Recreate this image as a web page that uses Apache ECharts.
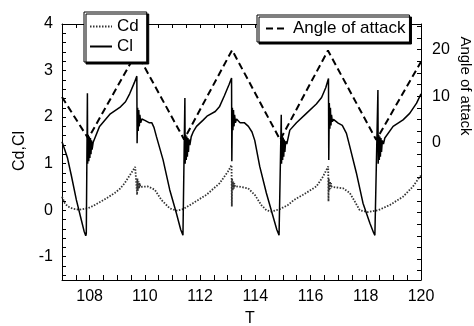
<!DOCTYPE html>
<html>
<head>
<meta charset="utf-8">
<script src="https://cdn.jsdelivr.net/npm/echarts@6/dist/echarts.min.js"></script>
<style>html,body{margin:0;padding:0;background:#fff;}#c{width:474px;height:326px;}</style>
</head>
<body>
<div id="c"></div>
<script>
// ---- data ----
const seriesNames = ['Cd', 'Cl', 'Angle of attack'];

const angleData = [[107.0, 9.8], [107.95, 0.9], [109.7, 19.4], [111.42, 0.7], [113.16, 19.9], [114.9, 0.6], [116.63, 19.8], [118.38, 0.6], [120.0, 17.4]];

const clData = [
  [107.00, 1.47], [107.10, 1.30], [107.20, 1.12], [107.34, 0.74], [107.52, 0.22], [107.70, -0.21], [107.80, -0.45], [107.86, -0.55],
  [107.88, -0.50], [107.92, 2.51], [107.93, 1.00], [107.95, 1.62], [107.97, 1.05], [107.99, 1.58], [108.01, 1.12], [108.03, 1.55], [108.05, 1.20], [108.07, 1.50], [108.09, 1.30], [108.13, 1.46],
  [108.36, 1.80], [108.75, 2.07], [109.12, 2.22], [109.30, 2.33], [109.45, 2.50], [109.62, 2.74], [109.71, 2.88],
  [109.72, 1.44], [109.74, 2.20], [109.76, 1.70], [109.78, 2.15], [109.80, 1.80], [109.82, 2.05], [109.85, 1.88], [109.89, 1.96],
  [110.00, 1.93], [110.15, 1.88], [110.25, 1.88], [110.33, 1.78], [110.42, 1.58], [110.66, 1.08], [110.90, 0.44], [111.14, -0.06], [111.30, -0.42], [111.38, -0.54],
  [111.40, -0.50], [111.45, 2.41], [111.46, 1.00], [111.48, 1.62], [111.50, 1.08], [111.52, 1.58], [111.54, 1.15], [111.56, 1.55], [111.58, 1.25], [111.60, 1.52], [111.63, 1.40], [111.68, 1.58],
  [111.75, 1.68], [111.87, 1.80], [112.10, 1.93], [112.25, 2.02], [112.55, 2.12], [112.70, 2.22], [112.88, 2.46], [113.05, 2.70], [113.14, 2.84],
  [113.15, 1.05], [113.17, 2.20], [113.19, 1.72], [113.21, 2.15], [113.23, 1.80], [113.25, 2.05], [113.28, 1.88], [113.32, 1.96],
  [113.45, 1.88], [113.60, 1.88], [113.75, 1.80], [113.88, 1.68], [113.98, 1.50], [114.16, 0.94], [114.40, 0.37], [114.64, -0.13], [114.78, -0.42], [114.86, -0.54],
  [114.89, -0.50], [114.94, 2.05], [114.95, 1.00], [114.97, 1.60], [114.99, 1.08], [115.01, 1.56], [115.03, 1.15], [115.05, 1.52], [115.07, 1.25], [115.10, 1.48], [115.14, 1.42],
  [115.25, 1.72], [115.49, 1.88], [115.85, 2.08], [116.21, 2.28], [116.40, 2.42], [116.55, 2.63], [116.65, 2.83],
  [116.66, 1.08], [116.68, 2.30], [116.70, 1.75], [116.72, 2.20], [116.74, 1.82], [116.76, 2.05], [116.79, 1.90], [116.83, 1.95],
  [117.00, 1.87], [117.15, 1.82], [117.30, 1.65], [117.42, 1.37], [117.66, 0.80], [117.90, 0.15], [118.15, -0.28], [118.28, -0.48], [118.33, -0.54],
  [118.36, -0.50], [118.44, 2.58], [118.45, 1.00], [118.47, 1.62], [118.49, 1.08], [118.51, 1.58], [118.53, 1.15], [118.55, 1.55], [118.57, 1.25], [118.60, 1.50], [118.64, 1.42],
  [118.69, 1.55], [118.99, 1.80], [119.35, 1.94], [119.59, 2.08], [119.84, 2.30], [120.00, 2.50]
];

const cdData = [
  [107.00, 0.29], [107.10, 0.15], [107.21, 0.08], [107.40, 0.03], [107.64, 0.01], [107.94, 0.04], [108.15, 0.10], [108.42, 0.19], [108.65, 0.27], [108.91, 0.37], [109.10, 0.46], [109.27, 0.58], [109.51, 0.80], [109.65, 0.93], [109.71, 0.97],
  [109.72, 0.33], [109.73, 0.68], [109.75, 0.42], [109.77, 0.62], [109.79, 0.46], [109.81, 0.58], [109.84, 0.50],
  [109.90, 0.51], [110.11, 0.51], [110.36, 0.44], [110.48, 0.33], [110.60, 0.22], [110.90, 0.04], [111.14, -0.01], [111.38, 0.02], [111.74, 0.15], [112.23, 0.33], [112.71, 0.58], [113.01, 0.83], [113.14, 0.97],
  [113.15, 0.08], [113.16, 0.68], [113.18, 0.42], [113.20, 0.62], [113.22, 0.46], [113.24, 0.58], [113.27, 0.50],
  [113.37, 0.51], [113.74, 0.47], [113.98, 0.33], [114.22, 0.11], [114.40, 0.00], [114.58, -0.03], [114.88, 0.02], [115.18, 0.11], [115.40, 0.22], [115.73, 0.33], [116.21, 0.51], [116.45, 0.72], [116.64, 0.94],
  [116.65, 0.19], [116.66, 0.68], [116.68, 0.42], [116.70, 0.62], [116.72, 0.46], [116.74, 0.58], [116.77, 0.50],
  [116.82, 0.51], [117.18, 0.47], [117.42, 0.37], [117.60, 0.19], [117.78, 0.00], [118.08, -0.04], [118.45, 0.00], [118.87, 0.11], [119.35, 0.29], [119.71, 0.51], [119.96, 0.72], [120.00, 0.74]
];

const xLabelValues = [108, 110, 112, 114, 116, 118, 120];
const xTickValues = [107.5, 108, 108.5, 109, 109.5, 110, 110.5, 111, 111.5, 112, 112.5, 113, 113.5, 114, 114.5, 115, 115.5, 116, 116.5, 117, 117.5, 118, 118.5, 119, 119.5];
const yLabelValues = [-1, 0, 1, 2, 3, 4];
const yTickValues = [-1.4, -1.2, -1, -0.8, -0.6, -0.4, -0.2, 0, 0.2, 0.4, 0.6, 0.8, 1, 1.2, 1.4, 1.6, 1.8, 2, 2.2, 2.4, 2.6, 2.8, 3, 3.2, 3.4, 3.6, 3.8];
const y2LabelValues = [0, 10, 20];
const y2TickValues = [-27.5, -25, -22.5, -20, -17.5, -15, -12.5, -10, -7.5, -5, -2.5, 0, 2.5, 5, 7.5, 10, 12.5, 15, 17.5, 20, 22.5, 25];

// ---- chart ----
const FONT = '"Liberation Sans", Arial, Helvetica, sans-serif';
const axisLine = { show: true, onZero: false, lineStyle: { color: '#000', width: 1 } };
const labelStyle = { color: '#000', fontSize: 16, fontFamily: FONT };
const legendCommon = {
  itemWidth: 22, itemHeight: 16, backgroundColor: '#fff', borderColor: '#000', borderWidth: 1,
  shadowColor: '#000', shadowOffsetX: 2, shadowOffsetY: 2, shadowBlur: 0, z: 10,
  itemStyle: { opacity: 0 },
  textStyle: { color: '#000', fontSize: 17, fontFamily: FONT }
};

const chart = echarts.init(document.getElementById('c'), null, { renderer: 'canvas' });
chart.setOption({
  animation: false,
  backgroundColor: '#fff',
  grid: { left: 62, right: 53, top: 24, bottom: 46, containLabel: false },
  xAxis: [
    { type: 'value', min: 107, max: 120, position: 'bottom', axisLine: axisLine,
      axisTick: { show: true, inside: true, length: 5, customValues: xTickValues, lineStyle: { color: '#000' } },
      axisLabel: Object.assign({ customValues: xLabelValues, margin: 9 }, labelStyle),
      splitLine: { show: false } },
    { type: 'value', min: 107, max: 120, position: 'top', axisLine: axisLine,
      axisTick: { show: true, inside: true, length: 4, customValues: xTickValues, lineStyle: { color: '#000' } },
      axisLabel: { show: false }, splitLine: { show: false } }
  ],
  yAxis: [
    { type: 'value', min: -1.5, max: 4, position: 'left', axisLine: axisLine,
      axisTick: { show: true, inside: true, length: 4, customValues: yTickValues, lineStyle: { color: '#000' } },
      axisLabel: Object.assign({ customValues: yLabelValues, margin: 9 }, labelStyle),
      splitLine: { show: false } },
    { type: 'value', min: -29.5, max: 25.5, position: 'right', axisLine: axisLine,
      axisTick: { show: true, inside: true, length: 4, customValues: y2TickValues, lineStyle: { color: '#000' } },
      axisLabel: Object.assign({ customValues: y2LabelValues, margin: 11 }, labelStyle),
      splitLine: { show: false } }
  ],
  legend: [
    Object.assign({ data: ['Cd', 'Cl'], orient: 'vertical', left: 84, top: 12, padding: [6, 8, 7, 5], itemGap: 3 }, legendCommon),
    Object.assign({ data: ['Angle of attack'], orient: 'horizontal', left: 257, top: 15, padding: [5, 4, 5, 8] }, legendCommon)
  ],
  graphic: [
    { type: 'text', x: 20, y: 151, rotation: Math.PI / 2,
      style: { text: 'Cd,Cl', fill: '#000', font: '16px ' + FONT, align: 'center', verticalAlign: 'middle' } },
    { type: 'text', x: 465, y: 86, rotation: -Math.PI / 2,
      style: { text: 'Angle of attack', fill: '#000', font: '15px ' + FONT, align: 'center', verticalAlign: 'middle' } },
    { type: 'text', x: 250, y: 319,
      style: { text: 'T', fill: '#000', font: '16px ' + FONT, align: 'center', verticalAlign: 'middle' } }
  ],
  series: [
    { name: seriesNames[0], type: 'line', xAxisIndex: 0, yAxisIndex: 0, data: cdData, symbol: 'none', showSymbol: false,
      lineStyle: { color: '#333', width: 1.8, type: [1.5, 1.5] }, itemStyle: { color: '#333' }, z: 3 },
    { name: seriesNames[1], type: 'line', xAxisIndex: 0, yAxisIndex: 0, data: clData, symbol: 'none', showSymbol: false,
      lineStyle: { color: '#000', width: 1.5 }, itemStyle: { color: '#000' }, z: 4 },
    { name: seriesNames[2], type: 'line', xAxisIndex: 0, yAxisIndex: 1, data: angleData, symbol: 'none', showSymbol: false,
      lineStyle: { color: '#000', width: 2, type: [7, 4] }, itemStyle: { color: '#000' }, z: 3 }
  ]
});
</script>
</body>
</html>
